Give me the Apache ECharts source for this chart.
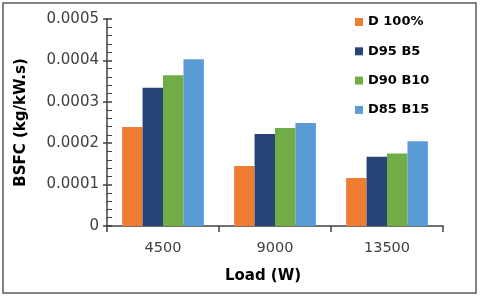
<!DOCTYPE html>
<html>
<head>
<meta charset="utf-8">
<script src="https://cdn.jsdelivr.net/npm/echarts@6/dist/echarts.min.js"></script>
<style>html,body{margin:0;padding:0;background:#fff}#c{width:480px;height:298px}</style>
</head>
<body>
<div id="c"></div>
<script>
const categories = ['4500', '9000', '13500'];
const seriesNames = ['D 100%', 'D95 B5', 'D90 B10', 'D85 B15'];
const d100 = [0.000239, 0.000145, 0.000116];
const d95b5 = [0.000334, 0.000222, 0.000167];
const d90b10 = [0.000364, 0.000237, 0.000175];
const d85b15 = [0.000403, 0.000249, 0.000205];
const yTicks = ['0', '0.0001', '0.0002', '0.0003', '0.0004', '0.0005'];
const colors = ['#ED7D31', '#264478', '#70AD47', '#5B9BD5'];
const values = [d100, d95b5, d90b10, d85b15];

const FONT = 'DejaVu Sans';
const axisColor = '#404040';
const chart = echarts.init(document.getElementById('c'), null, {renderer: 'canvas'});
chart.setOption({
  animation: false,
  backgroundColor: '#fff',
  textStyle: {fontFamily: FONT},
  grid: {left: 107, right: 37, top: 19, bottom: 72, containLabel: false},
  legend: {
    orient: 'vertical',
    left: 355,
    top: 14,
    padding: 0,
    itemWidth: 8,
    itemHeight: 8,
    itemGap: 13.3,
    icon: 'rect',
    data: seriesNames,
    textStyle: {fontFamily: FONT, fontSize: 13, fontWeight: 'bold', color: '#000', lineHeight: 16}
  },
  xAxis: {
    type: 'category',
    data: categories,
    name: 'Load (W)',
    nameLocation: 'middle',
    nameGap: 43,
    nameTextStyle: {fontFamily: FONT, fontSize: 15, fontWeight: 'bold', color: '#000', padding: [0, 24, 0, 0]},
    axisLine: {lineStyle: {color: axisColor, width: 1.5}},
    axisTick: {show: true, inside: false, length: 6, lineStyle: {color: axisColor, width: 1.5}},
    axisLabel: {fontFamily: FONT, fontSize: 14.5, color: '#404040', margin: 15}
  },
  yAxis: [{
    type: 'value',
    min: 0,
    max: 0.0005,
    interval: 0.0001,
    name: 'BSFC (kg/kW.s)',
    nameLocation: 'middle',
    nameRotate: 90,
    nameGap: 78,
    nameTextStyle: {fontFamily: FONT, fontSize: 15, fontWeight: 'bold', color: '#000'},
    axisLine: {show: true, lineStyle: {color: axisColor, width: 1.5}},
    axisTick: {show: true, inside: true, length: 5, lineStyle: {color: axisColor, width: 1.5}},
    minorTick: {show: true, splitNumber: 5, length: 5, lineStyle: {color: axisColor, width: 1}},
    splitLine: {show: false},
    axisLabel: {
      fontFamily: FONT, fontSize: 15, color: '#404040', margin: 8,
      formatter: function (v) { return yTicks[Math.round(v / 0.0001)]; }
    }
  }, {
    type: 'value',
    min: 0,
    max: 0.0005,
    interval: 0.0001,
    position: 'left',
    axisLine: {show: false},
    axisTick: {show: true, inside: false, length: 4, lineStyle: {color: axisColor, width: 1.5}},
    axisLabel: {show: false},
    splitLine: {show: false}
  }],
  series: seriesNames.map(function (n, i) {
    return {
      name: n,
      type: 'bar',
      data: values[i],
      yAxisIndex: 0,
      barGap: '0%',
      barCategoryGap: '27%',
      itemStyle: {color: colors[i]}
    };
  }),
  graphic: [{
    type: 'rect',
    shape: {x: 3, y: 3, width: 473, height: 290},
    style: {fill: 'none', stroke: '#595959', lineWidth: 1.5},
    silent: true
  }]
});
</script>
</body>
</html>
